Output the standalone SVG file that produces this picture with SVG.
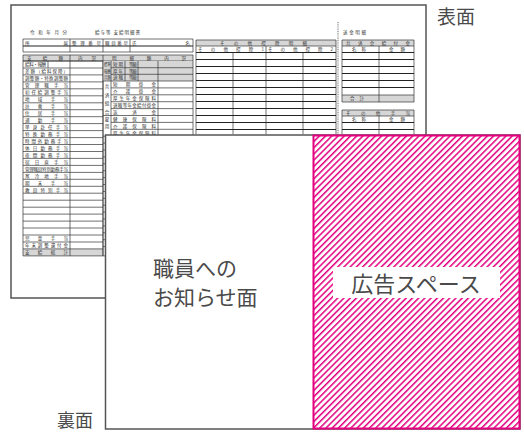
<svg xmlns="http://www.w3.org/2000/svg" width="524" height="439" viewBox="0 0 524 439">
<defs>
<pattern id="hatch" width="4.4" height="10" patternUnits="userSpaceOnUse" patternTransform="rotate(45)"><rect width="1.5" height="10" fill="#e4007f"/></pattern>
</defs>
<style>
.t{font-family:"Noto Sans CJK JP","Noto Sans CJK SC",sans-serif;font-size:4.5px;fill:#333}
.g{fill:#d6d6d6}
.ln{stroke:#333;stroke-width:0.7;fill:none}
.lh{stroke:#222;stroke-width:1;fill:none}
.bd{fill:#fff;stroke:#555;stroke-width:1.5}
.lbl{font-family:"Noto Sans CJK JP","Noto Sans CJK SC",sans-serif;fill:#4a4a4a}
</style>
<rect width="524" height="439" fill="#fff"/>
<g id="connectors"></g>

<g id="front-page">
<rect class="bd" x="11" y="5" width="415" height="293"/>
<text class="t" x="30" y="34" textLength="37" lengthAdjust="spacing">令和年月分</text>
<text class="t" x="95" y="34" textLength="45" lengthAdjust="spacing">給与等 支給明細書</text>

<!-- header rows -->
<rect class="g" x="23" y="55" width="170" height="6"/>
<path class="ln" d="M23 39H193M23 52H193M23 39V52M70 39V52M103 39V52M130 39V52M193 39V52M23 55H193M23 61H193M23 55V61M70 55V61M103 55V61M193 55V61"/>
<path class="lh" d="M23 46H193"/>
<text class="t" x="25" y="44.5" textLength="43" lengthAdjust="spacing">所属</text>
<text class="t" x="72" y="44.5" textLength="29" lengthAdjust="spacing">整理番号</text>
<text class="t" x="105" y="44.5" textLength="23" lengthAdjust="spacing">職員番号</text>
<text class="t" x="132" y="44.5" textLength="58" lengthAdjust="spacing">氏名</text>
<text class="t" x="27" y="59.7" textLength="36" lengthAdjust="spacing">支給額</text>
<text class="t" x="78" y="59.7" textLength="18" lengthAdjust="spacing">内訳</text>
<text class="t" x="112" y="59.7" textLength="74" lengthAdjust="spacing">明細額内訳</text>

<!-- left table -->
<rect class="g" x="23" y="248.9" width="80" height="7"/>
<path class="ln" d="M23 61H103M23 68H103M23 74.9H103M23 81.9H103M23 88.8H103M23 95.8H103M23 102.8H103M23 109.7H103M23 116.7H103M23 123.6H103M23 130.6H103M23 137.6H103M23 144.5H103M23 151.5H103M23 158.4H103M23 165.4H103M23 172.4H103M23 179.3H103M23 186.3H103M23 193.2H103M23 200.2H103M23 207.2H103M23 214.1H103M23 221.1H103M23 228H103M23 235H103M23 242H103M23 248.9H103M23 255.9H103M23 61V255.9M70 61V255.9M103 61V255.9M48 61V68"/>
<text class="t" x="25" y="66.2" textLength="21" lengthAdjust="spacing">給料・報酬</text>
<text class="t" x="25" y="73.2" textLength="43" lengthAdjust="spacing">差額（給料保障）</text>
<text class="t" x="25" y="80.1" textLength="43" lengthAdjust="spacing">調整額・特殊調整額</text>
<text class="t" x="25" y="87.1" textLength="43" lengthAdjust="spacing">管理職手当</text>
<text class="t" x="25" y="94" textLength="43" lengthAdjust="spacing">初任給調整手当</text>
<text class="t" x="25" y="101" textLength="43" lengthAdjust="spacing">地域手当</text>
<text class="t" x="25" y="108" textLength="43" lengthAdjust="spacing">扶養手当</text>
<text class="t" x="25" y="114.9" textLength="43" lengthAdjust="spacing">住居手当</text>
<text class="t" x="25" y="121.9" textLength="43" lengthAdjust="spacing">通勤手当</text>
<text class="t" x="25" y="128.8" textLength="43" lengthAdjust="spacing">単身赴任手当</text>
<text class="t" x="25" y="135.8" textLength="43" lengthAdjust="spacing">特殊勤務手当</text>
<text class="t" x="25" y="142.8" textLength="43" lengthAdjust="spacing">時間外勤務手当</text>
<text class="t" x="25" y="149.7" textLength="43" lengthAdjust="spacing">休日勤務手当</text>
<text class="t" x="25" y="156.7" textLength="43" lengthAdjust="spacing">夜間勤務手当</text>
<text class="t" x="25" y="163.6" textLength="43" lengthAdjust="spacing">宿日直手当</text>
<text class="t" x="25" y="170.6" textLength="43" lengthAdjust="spacing">管理職員特別勤務手当</text>
<text class="t" x="25" y="177.6" textLength="43" lengthAdjust="spacing">寒冷地手当</text>
<text class="t" x="25" y="184.5" textLength="43" lengthAdjust="spacing">期末手当</text>
<text class="t" x="25" y="191.5" textLength="43" lengthAdjust="spacing">教員特別手当</text>
<text class="t" x="25" y="240.2" textLength="43" lengthAdjust="spacing">児童手当</text>
<text class="t" x="25" y="247.2" textLength="43" lengthAdjust="spacing">年末調整還付金</text>
<text class="t" x="25" y="254.1" textLength="43" lengthAdjust="spacing">支給総計</text>

<!-- middle table -->
<rect class="g" x="103" y="61" width="90" height="20"/>
<path class="ln" d="M103 61V255.9M111 61V255.9M158 61V255.9M193 61V255.9M125 61V81M138 61V81M111 67.7H193M111 74.3H193M103 81H193M111 87.9H193M111 94.8H193M111 101.7H193M111 108.6H193M103 115.5H193M111 122.4H193M111 129.3H193M103 136.2H193M103 143.1H193M103 150H193M103 156.9H193M103 163.8H193M103 170.7H193M103 177.6H193M103 184.5H193M103 191.4H193M103 198.3H193M103 205.2H193M103 212.1H193M103 219H193M103 225.9H193M103 232.8H193M103 239.7H193M103 246.6H193M103 255.9H193"/>
<text class="t" x="104" y="66" textLength="6.5" lengthAdjust="spacingAndGlyphs">標準</text>
<text class="t" x="104" y="72.7" textLength="6.5" lengthAdjust="spacingAndGlyphs">報酬</text>
<text class="t" x="104" y="79.4" textLength="6.5" lengthAdjust="spacingAndGlyphs">月額</text>
<text class="t" x="113" y="66" textLength="10" lengthAdjust="spacing">短期</text>
<text class="t" x="113" y="72.7" textLength="10" lengthAdjust="spacing">厚年</text>
<text class="t" x="113" y="79.4" textLength="10" lengthAdjust="spacing">退職</text>
<text class="t" x="129" y="66" textLength="8" lengthAdjust="spacing">等級</text>
<text class="t" x="129" y="72.7" textLength="8" lengthAdjust="spacing">等級</text>
<text class="t" x="129" y="79.4" textLength="8" lengthAdjust="spacing">等級</text>
<text class="t" x="104.8" y="88">共</text>
<text class="t" x="104.8" y="96.5">済</text>
<text class="t" x="104.8" y="105">組</text>
<text class="t" x="104.8" y="113.5">合</text>
<text class="t" x="104.8" y="121">雇</text>
<text class="t" x="104.8" y="128">用</text>
<text class="t" x="113" y="86.2" textLength="43" lengthAdjust="spacing">短期掛金</text>
<text class="t" x="113" y="93.1" textLength="43" lengthAdjust="spacing">介護掛金</text>
<text class="t" x="113" y="100" textLength="43" lengthAdjust="spacing">厚生年金保険料</text>
<text class="t" x="113" y="106.9" textLength="43" lengthAdjust="spacing">退職等年金給付掛金</text>
<text class="t" x="113" y="113.8" textLength="43" lengthAdjust="spacing">返済金</text>
<text class="t" x="113" y="120.7" textLength="43" lengthAdjust="spacing">健康保険料</text>
<text class="t" x="113" y="127.6" textLength="43" lengthAdjust="spacing">介護保険料</text>
<text class="t" x="113" y="134.5" textLength="43" lengthAdjust="spacing">厚生年金保険料</text>

<!-- other deductions -->
<rect class="g" x="196" y="40" width="140" height="6"/>
<path class="ln" d="M196 40H336M196 46H336M196 40V134M336 40V134M266 46V134M233 52.5V134M303 52.5V134"/>
<path class="lh" d="M196 52.5H336M196 59.5H336M196 66.5H336M196 73.5H336M196 80.5H336M196 87.5H336M196 94.5H336M196 101.5H336M196 108.5H336M196 115.5H336M196 122.5H336M196 129.5H336"/>
<text class="t" x="220" y="44.7" textLength="87" lengthAdjust="spacing">その他控除明細</text>
<text class="t" x="198" y="51" textLength="66" lengthAdjust="spacing">その他控除1</text>
<text class="t" x="268" y="51" textLength="65" lengthAdjust="spacing">その他控除2</text>

<line x1="338" y1="22" x2="338" y2="134" stroke="#999" stroke-width="1.4" stroke-dasharray="1 0.8"/>

<!-- right blocks -->
<text class="t" x="343" y="34" textLength="23" lengthAdjust="spacing">送金明細</text>
<rect class="g" x="342" y="40" width="72" height="6"/>
<rect class="g" x="342" y="95" width="72" height="7"/>
<path class="ln" d="M342 40H414M342 46H414M342 40V102M414 40V102M379 46V102M342 95H414M342 102H414"/>
<path class="lh" d="M342 52.5H414M342 59.5H414M342 66.5H414M342 73.5H414M342 80.5H414M342 87.5H414"/>
<text class="t" x="346" y="44.7" textLength="64" lengthAdjust="spacing">共済会給付金</text>
<text class="t" x="352" y="51" textLength="14" lengthAdjust="spacing">名称</text>
<text class="t" x="389" y="51" textLength="16" lengthAdjust="spacing">金額</text>
<text class="t" x="350" y="100.4" textLength="14" lengthAdjust="spacing">合計</text>
<rect class="g" x="342" y="110" width="72" height="6"/>
<path class="ln" d="M342 110H414M342 116H414M342 110V134M414 110V134M379 116V134"/>
<path class="lh" d="M342 122.5H414M342 129.5H414"/>
<text class="t" x="346" y="114.7" textLength="64" lengthAdjust="spacing">その他手当</text>
<text class="t" x="352" y="121" textLength="14" lengthAdjust="spacing">名称</text>
<text class="t" x="389" y="121" textLength="16" lengthAdjust="spacing">金額</text>
</g>

<text id="label-front" class="lbl" x="437" y="24" font-size="19">表面</text>

<g id="back-page">
<rect class="bd" x="105.5" y="135" width="414.5" height="294"/>
<text class="lbl" x="153" y="276" font-size="21">職員への</text>
<text class="lbl" x="153" y="305" font-size="21">お知らせ面</text>
</g>

<g id="ad-space">
<rect x="313.5" y="135.5" width="206" height="293" fill="url(#hatch)" stroke="#e4007f" stroke-width="2"/>
<rect x="333" y="267" width="167" height="31" fill="#fff"/>
<text class="lbl" x="416" y="292" font-size="22" text-anchor="middle">広告スペース</text>
</g>

<text id="label-back" class="lbl" x="57" y="427" font-size="18">裏面</text>
</svg>
